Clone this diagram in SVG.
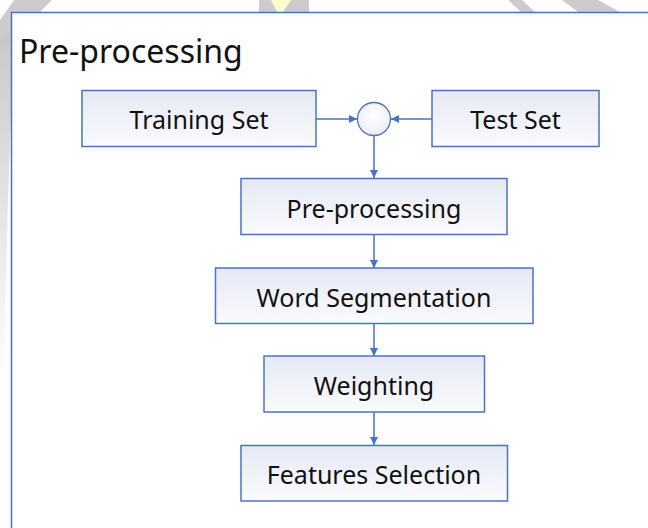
<svg xmlns="http://www.w3.org/2000/svg" width="648" height="528" viewBox="0 0 648 528">
<defs>
<linearGradient id="boxfill" x1="0" y1="0" x2="0" y2="1">
<stop offset="0" stop-color="#e6e9f4"/>
<stop offset="1" stop-color="#fafbfe"/>
</linearGradient>
<radialGradient id="circfill" cx="0.5" cy="0.4" r="0.6">
<stop offset="0" stop-color="#ffffff"/>
<stop offset="1" stop-color="#eceef6"/>
</radialGradient>
<linearGradient id="wmleft" x1="0" y1="0" x2="0" y2="1">
<stop offset="0" stop-color="#c8c8c8"/>
<stop offset="1" stop-color="#c8c8c8" stop-opacity="0"/>
</linearGradient>
<marker id="arr" viewBox="0 0 10 10" refX="10" refY="5" markerWidth="8" markerHeight="8" markerUnits="userSpaceOnUse" orient="auto">
<path d="M0,0 L10,5 L0,10 z" fill="#4472c4"/>
</marker>
<style>
.box{fill:url(#boxfill);stroke:#4a74c0;stroke-width:1.5}
.lbl{font-family:"Noto Sans","Open Sans","Liberation Sans",sans-serif;font-size:25px;fill:#111;text-anchor:middle;dominant-baseline:central}
.conn{stroke:#4472c4;stroke-width:1.5;fill:none;marker-end:url(#arr)}
</style>
</defs>
<rect width="648" height="528" fill="#ffffff"/>
<g id="watermark">
<polygon points="14,0 52,0 10,42 0,52 0,20" fill="#cccccc"/>
<polygon points="0,40 14,28 8,200 4,360 0,380" fill="url(#wmleft)"/>
<polygon points="259,0 309,0 309,12 259,12" fill="#cccccc"/>
<polygon points="271,0 291,0 283,12 277,12" fill="#fffbd0"/>
<polygon points="508,0 522,0 535,12 521,12" fill="#cccccc"/>
<polygon points="562,0 598,0 620,12 578,12" fill="#cccccc"/>
</g>
<rect id="frame" x="11.5" y="12.5" width="660" height="540" fill="#ffffff" stroke="#4472c4" stroke-width="1.5"/>
<text x="19" y="50" font-family="'Noto Sans','Open Sans','Liberation Sans',sans-serif" font-size="32" fill="#111" dominant-baseline="central">Pre-processing</text>
<g id="connectors">
<line class="conn" x1="316" y1="119" x2="357" y2="119"/>
<line class="conn" x1="432" y1="119" x2="391" y2="119"/>
<line class="conn" x1="374" y1="136" x2="374" y2="178"/>
<line class="conn" x1="374" y1="234" x2="374" y2="268"/>
<line class="conn" x1="374" y1="323" x2="374" y2="356"/>
<line class="conn" x1="374" y1="412" x2="374" y2="445"/>
</g>
<g id="training">
<rect class="box" x="82" y="90.5" width="234" height="56"/>
<text class="lbl" x="199" y="119">Training Set</text>
</g>
<g id="test">
<rect class="box" x="432" y="90.5" width="167" height="56"/>
<text class="lbl" x="515.5" y="119">Test Set</text>
</g>
<g id="merge">
<circle cx="374" cy="119" r="16.5" fill="url(#circfill)" stroke="#4a74c0" stroke-width="1.3"/>
</g>
<g id="preprocessing">
<rect class="box" x="241" y="178.5" width="266" height="56"/>
<text class="lbl" x="374" y="208">Pre-processing</text>
</g>
<g id="wordseg">
<rect class="box" x="215.5" y="268" width="317.5" height="55.5"/>
<text class="lbl" x="374" y="297">Word Segmentation</text>
</g>
<g id="weighting">
<rect class="box" x="264" y="356" width="220.5" height="56"/>
<text class="lbl" x="374" y="385">Weighting</text>
</g>
<g id="features">
<rect class="box" x="241" y="445.5" width="266.5" height="55.5"/>
<text class="lbl" x="374" y="474">Features Selection</text>
</g>
</svg>
